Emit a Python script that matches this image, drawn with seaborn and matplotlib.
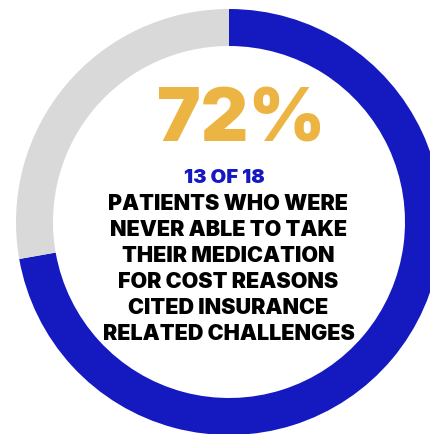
import matplotlib
matplotlib.use("Agg")
import matplotlib.pyplot as plt
import seaborn as sns

# Survey counts: patients citing insurance challenges vs. the rest
segments = ["Insurance related", "Other"]
counts = [13, 5]
total = 18
colors = ["#1519C0", "#D9D9D9"]

headline = f"{round(100 * counts[0] / total)}%"
subhead = f"{counts[0]} OF {total}"
body_lines = [
    "PATIENTS WHO WERE",
    "NEVER ABLE TO TAKE",
    "THEIR MEDICATION",
    "FOR COST REASONS",
    "CITED INSURANCE",
    "RELATED CHALLENGES",
]

sns.set_theme(style="white")
plt.rcParams["font.family"] = ["Inter", "DejaVu Sans"]

W, H = 430, 434
fig = plt.figure(figsize=(W / 100, H / 100), dpi=100)
ax = fig.add_axes([0, 0, 1, 1])

cx, cy = 229, H - 222
ax.pie(counts, colors=colors, startangle=90, counterclock=False,
       center=(cx, cy), radius=213,
       wedgeprops=dict(width=37, linewidth=0))
ax.set_xlim(0, W)
ax.set_ylim(0, H)
ax.set_aspect("equal")
ax.axis("off")

ax.text(241, H - 122, headline, ha="center", va="center",
        fontsize=53, fontweight="black", color="#EBB443")
ax.text(224, H - 178, subhead, ha="center", va="center",
        fontsize=14.5, fontweight="black", color="#1519C0")
y0 = 204.5
for i, line in enumerate(body_lines):
    ax.text(228.5, H - (y0 + i * 25.9), line, ha="center", va="center",
            fontsize=15.5, fontweight="black", color="#000000")

fig.savefig("out.png", dpi=100)
